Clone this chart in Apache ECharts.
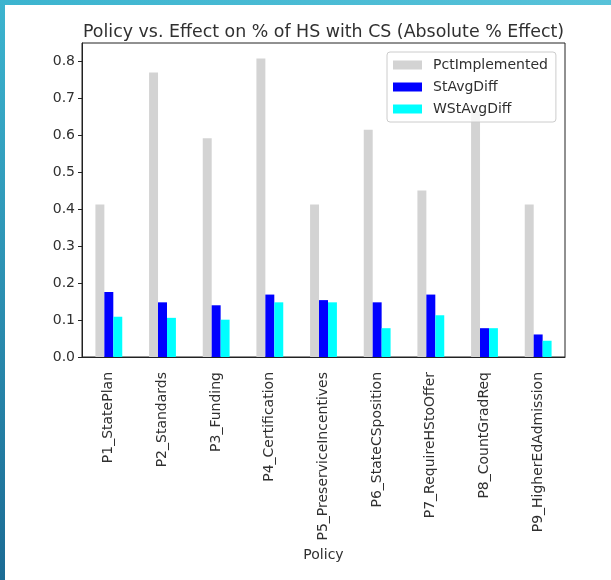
<!DOCTYPE html>
<html>
<head>
<meta charset="utf-8">
<script src="https://cdn.jsdelivr.net/npm/echarts@6/dist/echarts.min.js"></script>
<style>
html,body{margin:0;padding:0;background:#fff;}
#chart{width:611px;height:580px;}
</style>
</head>
<body>
<div id="chart"></div>
<script>
const categories = ["P1_StatePlan","P2_Standards","P3_Funding","P4_Certification","P5_PreserviceIncentives","P6_StateCSposition","P7_RequireHStoOffer","P8_CountGradReq","P9_HigherEdAdmission"];
const pctImplemented = [0.413, 0.770, 0.592, 0.808, 0.413, 0.615, 0.451, 0.665, 0.413];
const stAvgDiff = [0.176, 0.148, 0.140, 0.169, 0.154, 0.148, 0.169, 0.078, 0.061];
const wStAvgDiff = [0.109, 0.106, 0.101, 0.148, 0.148, 0.078, 0.113, 0.078, 0.044];
const yTicks = [0, 0.1, 0.2, 0.3, 0.4, 0.5, 0.6, 0.7, 0.8];

const chart = echarts.init(document.getElementById('chart'));
const txt = '#303030';
const FONT = 'DejaVu Sans';
chart.setOption({
  animation: false,
  backgroundColor: '#ffffff',
  graphic: [
    { type: 'rect', left: 0, top: 0, shape: { width: 611, height: 5 }, silent: true,
      style: { fill: new echarts.graphic.LinearGradient(0, 0, 1, 0, [{offset: 0, color: '#3cb4cf'}, {offset: 1, color: '#58c2d9'}]) } },
    { type: 'rect', left: 0, top: 0, shape: { width: 5, height: 580 }, silent: true,
      style: { fill: new echarts.graphic.LinearGradient(0, 0, 0, 1, [{offset: 0, color: '#3cb4cf'}, {offset: 1, color: '#1b6b94'}]) } }
  ],
  title: {
    text: 'Policy vs. Effect on % of HS with CS (Absolute % Effect)',
    left: 78, top: 19,
    textStyle: { fontFamily: FONT, fontSize: 17.4, fontWeight: 'normal', color: txt }
  },
  legend: {
    orient: 'vertical', left: 387, top: 52,
    padding: [5, 8, 5, 6],
    itemWidth: 29, itemHeight: 9, itemGap: 6,
    backgroundColor: 'rgba(255,255,255,0.8)',
    borderColor: '#cccccc', borderWidth: 1, borderRadius: 3,
    textStyle: { fontFamily: FONT, fontSize: 14, color: txt, lineHeight: 16, padding: [0, 0, 0, 6] },
    icon: 'rect',
    data: ['PctImplemented', 'StAvgDiff', 'WStAvgDiff']
  },
  grid: { left: 82, right: 46, top: 43, bottom: 223, show: true, borderColor: '#222', borderWidth: 1, backgroundColor: 'transparent' },
  xAxis: {
    type: 'category', data: categories,
    name: 'Policy', nameLocation: 'middle', nameGap: 188,
    nameTextStyle: { fontFamily: FONT, fontSize: 14, color: txt },
    axisLine: { lineStyle: { color: '#222' } },
    axisTick: { alignWithLabel: true, length: 4, lineStyle: { color: '#222' } },
    axisLabel: { rotate: 90, margin: 15, fontFamily: FONT, fontSize: 14, color: txt, interval: 0 }
  },
  yAxis: {
    type: 'value', min: 0, max: 0.85, interval: 0.1,
    axisLine: { show: true, lineStyle: { color: '#222' } },
    axisTick: { show: true, length: 4, lineStyle: { color: '#222' } },
    splitLine: { show: false },
    axisLabel: {
      fontFamily: FONT, fontSize: 14, color: txt, margin: 7, showMaxLabel: false,
      formatter: function (v) {
        for (const t of yTicks) { if (Math.abs(v - t) < 1e-6) return t.toFixed(1); }
        return '';
      }
    }
  },
  series: [
    { name: 'PctImplemented', type: 'bar', data: pctImplemented, barWidth: '16.67%', barGap: '0%', itemStyle: { color: '#d3d3d3' } },
    { name: 'StAvgDiff', type: 'bar', data: stAvgDiff, barWidth: '16.67%', barGap: '0%', itemStyle: { color: '#0000ff' } },
    { name: 'WStAvgDiff', type: 'bar', data: wStAvgDiff, barWidth: '16.67%', barGap: '0%', itemStyle: { color: '#00ffff' } }
  ]
});
</script>
</body>
</html>
